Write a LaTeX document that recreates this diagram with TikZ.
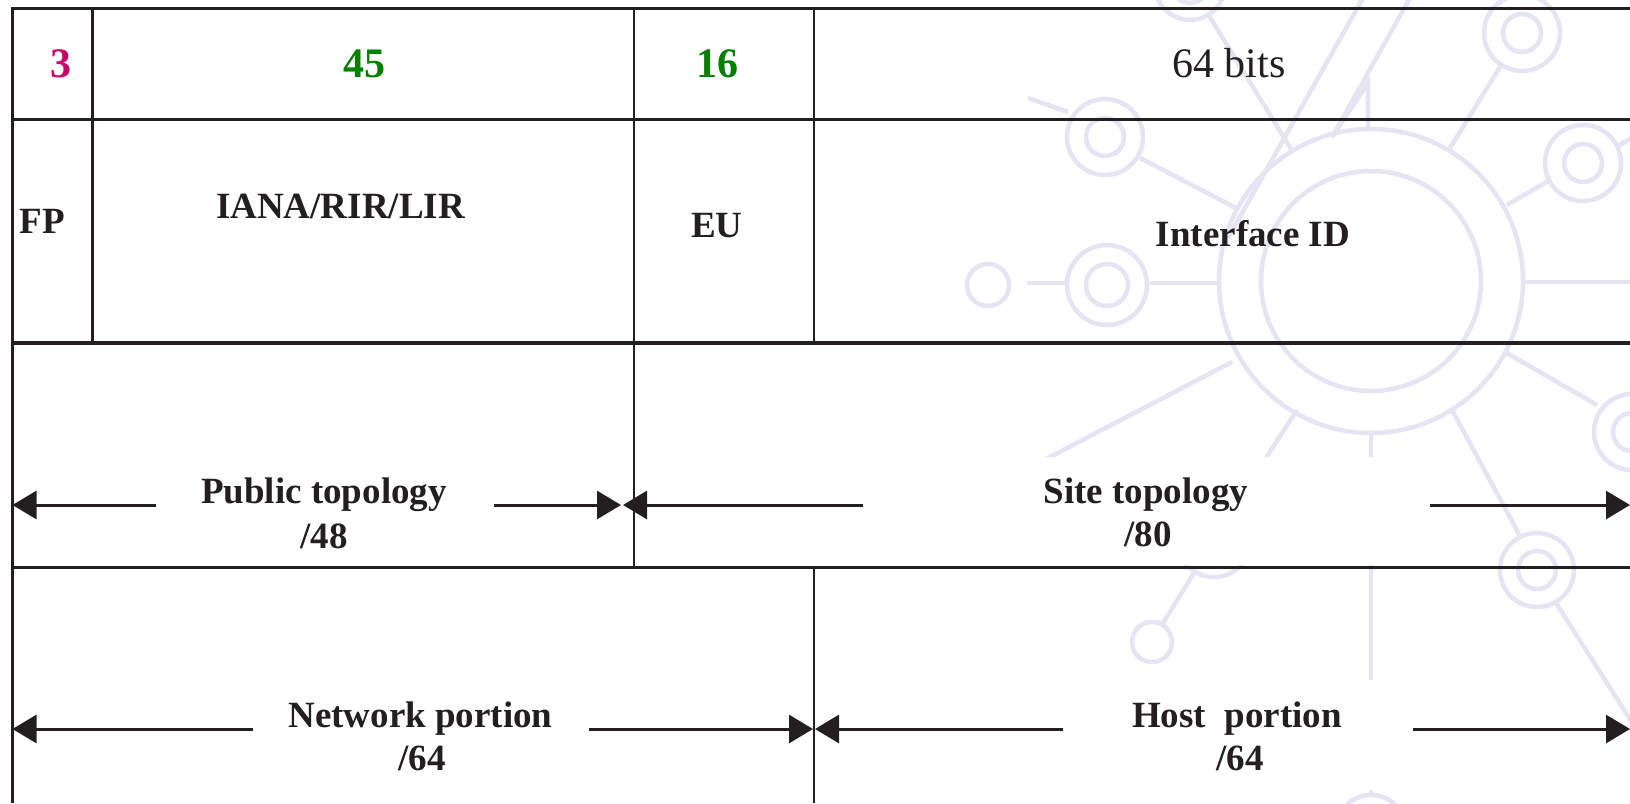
\documentclass[tikz,border=0pt]{standalone}
\usepackage{fontspec}
\setmainfont{Liberation Serif}
\usetikzlibrary{arrows.meta}
\definecolor{ink}{RGB}{35,31,32}
\definecolor{wmark}{RGB}{228,228,242}
\definecolor{fpred}{RGB}{204,0,102}
\definecolor{bitgreen}{RGB}{0,128,0}
\tikzset{
  bitlen/.style={font=\fontsize{42}{48}\selectfont\bfseries, anchor=base},
  field/.style={font=\fontsize{37}{45}\selectfont\bfseries, text=ink, anchor=base},
  colline/.style={draw=ink, line width=2.5pt},
  rowline/.style={draw=ink, line width=3.2pt},
  span/.style={draw=ink, line width=3pt, -{Triangle[length=24pt,width=28pt]}},
  wm/.style={draw=wmark, line width=4.5pt},
}
\begin{document}
\begin{tikzpicture}[x=1pt,y=-1pt]
\useasboundingbox (0,0) rectangle (1630,803);
\fill [white] (0,0) rectangle (1630,803);

% background network sign
\draw [wm] (1371,281) circle [radius=152pt] (1371,281) circle [radius=110pt];
\draw [wm] (1523,282) -- (1635,282);
\draw [wm] (1507,205) -- (1550,180);
\draw [wm] (1583,163) circle [radius=38pt] (1583,163) circle [radius=19pt];
\draw [wm] (1618,146) -- (1640,133);
\draw [wm] (1522,33) circle [radius=38pt] (1522,33) circle [radius=19pt];
\draw [wm] (1500,67) -- (1450,148);
\draw [wm] (1505,352) -- (1597,405);
\draw [wm] (1632,432) circle [radius=38pt] (1632,432) circle [radius=19pt];
\draw [wm] (1452,410) -- (1520,536);
\draw [wm] (1537,570) circle [radius=37pt] (1537,570) circle [radius=19pt];
\draw [wm] (1556,603) -- (1640,735);
\draw [wm] (1371,433) -- (1371,795);
\draw [wm] (1371,830) circle [radius=35pt];
\draw [wm] (1297,410) -- (1233,509);
\draw [wm] (1214,540) circle [radius=37pt] (1214,540) circle [radius=19pt];
\draw [wm] (1194,573) -- (1163,623);
\draw [wm] (1152,642) circle [radius=20pt];
\draw [wm] (1232,362) -- (1000,483);
\draw [wm] (1107,285) circle [radius=40pt] (1107,285) circle [radius=21pt];
\draw [wm] (1150,283) -- (1219,283);
\draw [wm] (1027,283) -- (1066,283);
\draw [wm] (988,285) circle [radius=21pt];
\draw [wm] (1105,137) circle [radius=38pt] (1105,137) circle [radius=19pt];
\draw [wm] (1068,112) -- (1028,98);
\draw [wm] (1140,158) -- (1236,208);
\draw [wm] (1190,-15) circle [radius=35pt] (1190,-15) circle [radius=18pt];
\draw [wm] (1208,14) -- (1291,149);
\draw [wm] (1363,-2) -- (1228,238);
\draw [wm] (1410,-2) -- (1332,137) -- (1368,83) -- (1368,129);

% blank patches behind the lower labels
\fill [white] (863,457) rectangle (1430,565);
\fill [white] (1063,680) rectangle (1413,790);

% table lines
\draw [colline] (12.5,803) -- (12.5,8.3) -- (1630,8.3);
\draw [rowline] (12.5,119.5) -- (1630,119.5);
\draw [rowline] (12.5,343) -- (1630,343);
\draw [rowline] (12.5,567.6) -- (1630,567.6);
\draw [colline] (92.5,8.3) -- (92.5,343);
\draw [colline] (634,8.3) -- (634,567.6);
\draw [colline] (814,8.3) -- (814,343);
\draw [colline] (814,567.6) -- (814,803);

% bit counts
\node [bitlen, text=fpred] (fplen) at (60.5,77) {3};
\node [bitlen, text=bitgreen] (publen) at (364,77) {45};
\node [bitlen, text=bitgreen] (eulen) at (717,77) {16};
\node [font=\fontsize{42}{48}\selectfont, text=ink, anchor=base] (iflen) at (1229,77) {64 bits};

% fields
\node [field] (fp) at (42,233) {FP};
\node [field] (iana) at (340.5,218) {IANA/RIR/LIR};
\node [field] (eu) at (717,237) {EU};
\node [field] (ifid) at (1253,246) {Interface ID};

% spans
\node [field] (pub) at (324,503) {Public topology};
\node [field] (pubn) at (324,548) {/48};
\node [field] (site) at (1146,503) {Site topology};
\node [field] (siten) at (1148,546) {/80};
\node [field] (net) at (420.5,727) {Network portion};
\node [field] (netn) at (422,770) {/64};
\node [field] (host) at (1237,727) {Host\ \ portion};
\node [field] (hostn) at (1240,770) {/64};

\coordinate (pubL) at (12.5,505);
\coordinate (pubA) at (156,505);
\coordinate (pubB) at (494,505);
\coordinate (pubR) at (621,505);
\coordinate (siteL) at (623,505);
\coordinate (siteA) at (863,505);
\coordinate (siteB) at (1430,505);
\coordinate (siteR) at (1630,505);
\coordinate (netL) at (12.5,729);
\coordinate (netA) at (253,729);
\coordinate (netB) at (589,729);
\coordinate (netR) at (813,729);
\coordinate (hostL) at (815,729);
\coordinate (hostA) at (1063,729);
\coordinate (hostB) at (1413,729);
\coordinate (hostR) at (1630,729);

\draw [span] (pubA) -- (pubL);
\draw [span] (pubB) -- (pubR);
\draw [span] (siteA) -- (siteL);
\draw [span] (siteB) -- (siteR);
\draw [span] (netA) -- (netL);
\draw [span] (netB) -- (netR);
\draw [span] (hostA) -- (hostL);
\draw [span] (hostB) -- (hostR);
\end{tikzpicture}
\end{document}
